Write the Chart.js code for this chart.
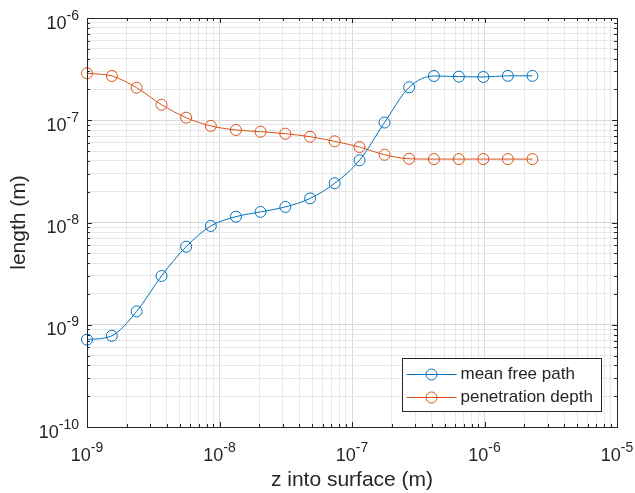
<!DOCTYPE html>
<html>
<head>
<meta charset="utf-8">
<script src="https://cdn.jsdelivr.net/npm/chart.js@4/dist/chart.umd.min.js"></script>
<style>
  html, body { margin:0; padding:0; background:#fff; }
  #wrap { width:635px; height:493px; }
</style>
</head>
<body>
<div id="wrap"><canvas id="c" width="635" height="493"></canvas></div>
<script>
// depth into surface (m) at each sample
const depth = [1e-9, 1.54e-9, 2.37e-9, 3.65e-9, 5.6e-9, 8.6e-9, 1.33e-8, 2.04e-8, 3.14e-8, 4.83e-8,
               7.4e-8, 1.14e-7, 1.76e-7, 2.7e-7, 4.15e-7, 6.4e-7, 9.8e-7, 1.5e-6, 2.3e-6];
const meanFreePath = [7.15e-10, 7.8e-10, 1.35e-9, 3.0e-9, 5.8e-9, 9.25e-9, 1.14e-8, 1.27e-8, 1.42e-8, 1.72e-8,
                      2.42e-8, 4.06e-8, 9.5e-8, 2.1e-7, 2.71e-7, 2.67e-7, 2.65e-7, 2.72e-7, 2.72e-7];
const penetrationDepth = [2.88e-7, 2.71e-7, 2.08e-7, 1.42e-7, 1.06e-7, 8.8e-8, 8.03e-8, 7.73e-8, 7.39e-8, 6.9e-8,
                          6.22e-8, 5.47e-8, 4.6e-8, 4.2e-8, 4.17e-8, 4.17e-8, 4.17e-8, 4.17e-8, 4.17e-8];
const seriesNames = ['mean free path', 'penetration depth'];
const xDecades = [1e-9, 1e-8, 1e-7, 1e-6, 1e-5];
const yDecades = [1e-10, 1e-9, 1e-8, 1e-7, 1e-6];

const BLUE = '#0072BD', ORANGE = '#D95319', AXIS = '#262626';
const FONT = "'Liberation Sans', Arial, Helvetica, sans-serif";

// major ticks on decades, minor ones at 2..9 inside each decade
function logTicks(decades){
  const out = [];
  decades.forEach((d, i) => {
    out.push({ value: d, major: true });
    if (i < decades.length - 1) for (let m = 2; m <= 9; m++) out.push({ value: d * m, major: false });
  });
  return out;
}

function pts(ys){ return depth.map((x, i) => ({ x: x, y: ys[i] })); }

const boxAndLabels = {
  id: 'boxAndLabels',
  afterDraw(chart){
    const ctx = chart.ctx, a = chart.chartArea;
    const xs = chart.scales.x, ys = chart.scales.y;
    ctx.save();
    // ticks pointing inward on all four sides
    ctx.strokeStyle = AXIS; ctx.lineWidth = 1;
    ctx.beginPath();
    xs.ticks.forEach(t => {
      const px = Math.round(xs.getPixelForValue(t.value)) + 0.5;
      const len = t.major ? 5 : 3;
      ctx.moveTo(px, a.bottom); ctx.lineTo(px, a.bottom - len);
      ctx.moveTo(px, a.top); ctx.lineTo(px, a.top + len);
    });
    ys.ticks.forEach(t => {
      const py = Math.round(ys.getPixelForValue(t.value)) + 0.5;
      const len = t.major ? 5 : 3;
      ctx.moveTo(a.left, py); ctx.lineTo(a.left + len, py);
      ctx.moveTo(a.right, py); ctx.lineTo(a.right - len, py);
    });
    ctx.stroke();
    ctx.strokeRect(Math.round(a.left) + 0.5, Math.round(a.top) + 0.5,
                   Math.round(a.right - a.left), Math.round(a.bottom - a.top));

    // tick labels as 10 with a superscript exponent
    ctx.fillStyle = AXIS;
    ctx.textBaseline = 'alphabetic';
    const baseFont = '18px ' + FONT, supFont = '14px ' + FONT;
    function measure(exp){
      ctx.font = baseFont; const w1 = ctx.measureText('10').width;
      ctx.font = supFont; const w2 = ctx.measureText(exp).width;
      return [w1, w2];
    }
    function put(x0, base, exp, w1){
      ctx.textAlign = 'left';
      ctx.font = baseFont; ctx.fillText('10', x0, base);
      ctx.font = supFont; ctx.fillText(exp, x0 + w1, base - 9);
    }
    xDecades.forEach(v => {
      const exp = String(Math.round(Math.log10(v)));
      const [w1, w2] = measure(exp);
      const px = xs.getPixelForValue(v);
      put(px - (w1 + w2) / 2, a.bottom + 34, exp, w1);
    });
    yDecades.forEach(v => {
      const exp = String(Math.round(Math.log10(v)));
      const [w1, w2] = measure(exp);
      const py = ys.getPixelForValue(v);
      put(a.left - 8 - (w1 + w2), py + 10.5, exp, w1);
    });

    // legend in the lower right corner
    const lx = 402.5, ly = 358.5, lw = 199, lh = 53;
    ctx.fillStyle = '#fff';
    ctx.fillRect(lx, ly, lw, lh);
    ctx.strokeStyle = AXIS; ctx.strokeRect(lx, ly, lw, lh);
    chart.data.datasets.forEach((ds, i) => {
      const cy = Math.round(ly + 15.5 + i * 23) + 0.5;
      ctx.strokeStyle = ds.borderColor; ctx.lineWidth = 1;
      ctx.beginPath(); ctx.moveTo(lx + 4, cy); ctx.lineTo(lx + 54, cy); ctx.stroke();
      ctx.beginPath(); ctx.arc(lx + 29, cy, 5.5, 0, Math.PI * 2); ctx.stroke();
      ctx.fillStyle = AXIS; ctx.font = '17px ' + FONT;
      ctx.textAlign = 'left'; ctx.textBaseline = 'middle';
      ctx.fillText(ds.label, lx + 58, cy);
    });
    ctx.restore();
  }
};

function axis(decades, title, fixSize, pad){
  return {
    type: 'logarithmic',
    min: decades[0], max: decades[decades.length - 1],
    afterBuildTicks: s => { s.ticks = logTicks(decades); },
    afterFit: fixSize,
    ticks: { display: false },
    grid: {
      drawTicks: false,
      color: c => (c.tick && c.tick.major) ? '#d9d9d9' : '#e7e7e7',
      lineWidth: 1
    },
    border: { display: false },
    title: { display: true, text: title, color: AXIS, font: { family: FONT, size: 21 }, padding: pad }
  };
}

new Chart(document.getElementById('c'), {
  type: 'scatter',
  data: {
    datasets: [
      { label: seriesNames[0], data: pts(meanFreePath), borderColor: BLUE, backgroundColor: 'rgba(0,0,0,0)' },
      { label: seriesNames[1], data: pts(penetrationDepth), borderColor: ORANGE, backgroundColor: 'rgba(0,0,0,0)' }
    ].map(d => Object.assign(d, {
      showLine: true, borderWidth: 1, pointRadius: 5.5, pointBorderWidth: 1,
      pointStyle: 'circle', cubicInterpolationMode: 'monotone', clip: 8
    }))
  },
  options: {
    responsive: false, devicePixelRatio: 1, animation: false,
    layout: { padding: { top: 18, right: 18, left: 0, bottom: 0 } },
    plugins: { legend: { display: false }, tooltip: { enabled: false } },
    scales: {
      x: axis(xDecades, 'z into surface (m)', s => { s.height = 66; }, { top: 0, bottom: 0 }),
      y: axis(yDecades, 'length (m)', s => { s.width = 87; }, { top: 7, bottom: 0 })
    }
  },
  plugins: [boxAndLabels]
});
</script>
</body>
</html>
